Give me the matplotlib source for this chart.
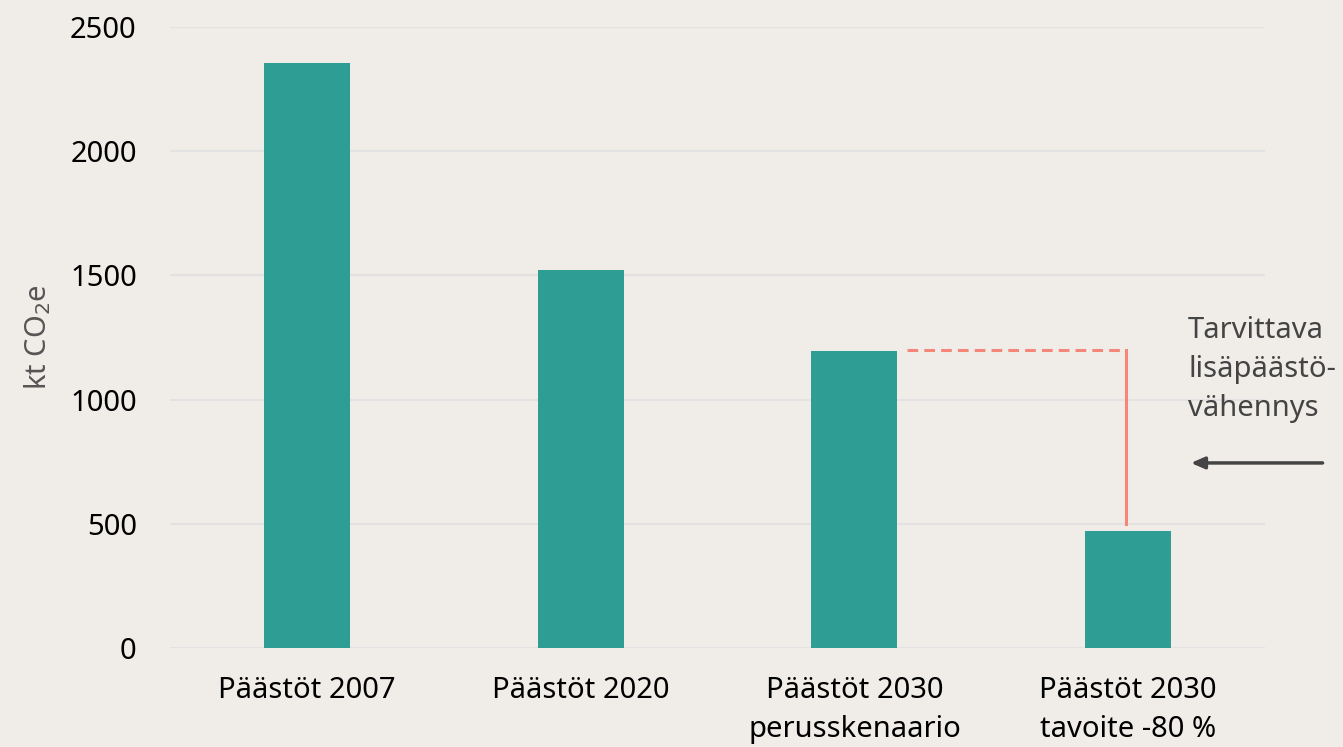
import matplotlib
matplotlib.use("Agg")
import matplotlib.pyplot as plt

categories = ["Päästöt 2007", "Päästöt 2020", "Päästöt 2030\nperusskenaario", "Päästöt 2030\ntavoite -80 %"]
values = [2355, 1520, 1196, 471]
yticks = [0, 500, 1000, 1500, 2000, 2500]
gap_top = 1200
gap_bottom = 500
note = "Tarvittava\nlisäpäästö-\nvähennys"

plt.rcParams['font.family'] = ['Noto Sans', 'DejaVu Sans']
bg = "#f0ede8"
fig = plt.figure(figsize=(13.43, 7.47), dpi=100, facecolor=bg)
ax = fig.add_axes([0.1266, 0.1325, 0.8154, 0.8314], facecolor=bg)

x = list(range(len(categories)))
ax.bar(x, values, width=0.314, color="#2e9e94", zorder=3)
ax.set_xlim(-0.5, 3.5)
ax.set_ylim(0, 2500)
ax.set_yticks(yticks)
ax.set_xticks(x)
ax.set_xticklabels(categories, fontsize=21, linespacing=1.45)
ax.tick_params(axis='y', length=0, pad=24, labelsize=21)
ax.tick_params(axis='x', length=0, pad=20)
ax.grid(axis='y', color="#e2e2e2", linewidth=1.5, zorder=0)
for s in ax.spines.values():
    s.set_visible(False)
ax.set_ylabel("kt CO$_2$e", fontsize=21, color="#555555", labelpad=12)

# gap annotation
ax.plot([2.193, 2.993], [gap_top, gap_top], color="#f4877a", lw=2.2, ls=(0, (3.5, 2)), zorder=4)
ax.plot([2.993, 2.993], [gap_top, gap_bottom], color="#f4877a", lw=2.2, zorder=4)
ax.text(3.219, 1335, note, fontsize=21, color="#444444", va="top", ha="left",
        linespacing=1.45, clip_on=False)
ax.annotate("", xy=(3.219, 745), xytext=(3.72, 745),
            arrowprops=dict(arrowstyle="-|>,head_length=0.8,head_width=0.35", color="#444444", lw=2.5),
            annotation_clip=False)

fig.savefig("out.png", dpi=100, facecolor=bg)
